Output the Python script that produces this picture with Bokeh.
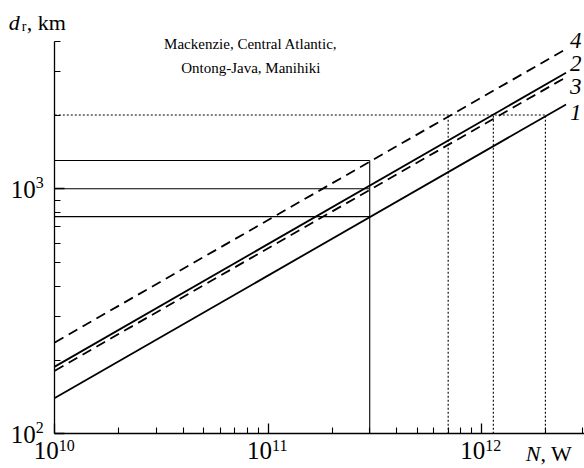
import math
from bokeh.plotting import figure
from bokeh.models import Label, FixedTicker, LogAxis
from bokeh.embed import file_html
from bokeh.resources import INLINE

# ---- data ----
N_span = [1e10, 2.5e12]             # N, W (line ends)
d_line1 = [140, 2210]               # km, solid
d_line2 = [188, 2975]               # km, solid
d_line3 = [181, 2855]               # km, dashed
d_line4 = [236, 3720]               # km, dashed
line_names = ["1", "2", "3", "4"]

N_case = 3e11                        # vertical solid reference
d_case = [770, 1000, 1305]           # horizontal solid references
d_ref = 2000                         # dotted horizontal reference
N_ref = [7e11, 1.14e12, 2e12]        # dotted vertical references

x_major = [1e10, 1e11, 1e12]
x_exp = ["10", "11", "12"]
y_major = [1e2, 1e3]
y_exp = ["2", "3"]
title_lines = ["Mackenzie, Central Atlantic,", "Ontong-Java, Manihiki"]

FONT = "Liberation Serif"
W, H = 584, 468
BL, BB = 2, 2                     # tiny side borders holding the axes
XMIN, XMAX = 1e10, 3.06e12        # axis extent
YMIN, YMAX = 100, 4000
AX_X, AX_Y = 54.3, 433.3          # where the axes sit on the canvas (px)
DEC_X, DEC_Y = 213.2, 245.0       # px per decade

# ranges chosen so that the frame fills the canvas and the axes sit at AX_X / AX_Y
x0 = 10 ** (math.log10(XMIN) - (AX_X - BL) / DEC_X)
x1 = 10 ** (math.log10(XMIN) + (W - AX_X) / DEC_X)
y0 = 10 ** (math.log10(YMIN) - (H - BB - AX_Y) / DEC_Y)
y1 = 10 ** (math.log10(YMIN) + AX_Y / DEC_Y)

p = figure(width=W, height=H, x_axis_type="log", y_axis_type="log",
           x_axis_location=None, y_axis_location=None,
           x_range=(x0, x1), y_range=(y0, y1),
           output_backend="svg", toolbar_location=None,
           min_border_left=BL, min_border_right=0,
           min_border_top=0, min_border_bottom=BB)
p.outline_line_color = None
p.grid.visible = False
p.background_fill_color = "white"
p.border_fill_color = "white"

def minors(lo_exp, hi_exp, hi):
    out = []
    for e in range(lo_exp, hi_exp + 1):
        for m in range(2, 10):
            v = m * 10.0 ** e
            if v <= hi * 1.0001:
                out.append(v)
    return out

xaxis = LogAxis(ticker=FixedTicker(ticks=x_major, minor_ticks=minors(10, 12, XMAX)),
                fixed_location=YMIN, bounds=(XMIN, XMAX))
yaxis = LogAxis(ticker=FixedTicker(ticks=y_major, minor_ticks=minors(2, 3, YMAX)),
                fixed_location=XMIN, bounds=(YMIN, YMAX))
for ax in (xaxis, yaxis):
    ax.axis_line_color = "black"
    ax.axis_line_width = 1.3
    ax.major_tick_line_color = "black"
    ax.minor_tick_line_color = "black"
    ax.major_tick_line_width = 1.3
    ax.minor_tick_line_width = 1.1
    ax.major_tick_in = 10
    ax.major_tick_out = 0
    ax.minor_tick_in = 6
    ax.minor_tick_out = 0
    ax.major_label_text_font_size = "1px"
    ax.major_label_text_alpha = 0
    ax.major_label_standoff = 0
p.add_layout(xaxis, "below")
p.add_layout(yaxis, "left")

# reference lines
for d in d_case:
    p.line([XMIN, N_case], [d, d], line_color="black", line_width=1.1)
p.line([N_case, N_case], [YMIN, max(d_case)], line_color="black", line_width=1.1)
p.line([XMIN, max(N_ref)], [d_ref, d_ref], line_color="black", line_width=1.1, line_dash="2 2")
for n in N_ref:
    p.line([n, n], [YMIN, d_ref], line_color="black", line_width=1.1, line_dash="2 2")

# main lines
p.line(N_span, d_line1, line_color="black", line_width=1.8)
p.line(N_span, d_line2, line_color="black", line_width=1.8)
p.line(N_span, d_line3, line_color="black", line_width=1.8, line_dash="10 6")
p.line(N_span, d_line4, line_color="black", line_width=1.8, line_dash="10 6")

# line numbers
ends = [d_line1[1], d_line2[1], d_line3[1], d_line4[1]]
offs = [-8, 9, -9, 9]
for name, d, off in zip(line_names, ends, offs):
    p.add_layout(Label(x=N_span[1], y=d, text=name, x_offset=4, y_offset=off,
                       text_font=FONT, text_font_style="italic", text_font_size="23px",
                       text_align="left", text_baseline="middle", text_color="black"))

# x tick labels
for t, e in zip(x_major, x_exp):
    p.add_layout(Label(x=t, y=YMIN, text="10", x_offset=4, y_offset=-8,
                       text_font=FONT, text_font_size="25px", text_align="right",
                       text_baseline="top", text_color="black"))
    p.add_layout(Label(x=t, y=YMIN, text=e, x_offset=4, y_offset=-6,
                       text_font=FONT, text_font_size="16px", text_align="left",
                       text_baseline="top", text_color="black"))
# y tick labels
for t, e in zip(y_major, y_exp):
    p.add_layout(Label(x=XMIN, y=t, text="10", x_offset=-19, y_offset=-1,
                       text_font=FONT, text_font_size="25px", text_align="right",
                       text_baseline="middle", text_color="black"))
    p.add_layout(Label(x=XMIN, y=t, text=e, x_offset=-19, y_offset=6,
                       text_font=FONT, text_font_size="16px", text_align="left",
                       text_baseline="middle", text_color="black"))

# axis titles
p.add_layout(Label(x=XMIN, y=YMAX, text="d", x_offset=-46, y_offset=19,
                   text_font=FONT, text_font_style="italic", text_font_size="22px",
                   text_align="left", text_baseline="alphabetic", text_color="black"))
p.add_layout(Label(x=XMIN, y=YMAX, text="r", x_offset=-33, y_offset=15,
                   text_font=FONT, text_font_size="14px",
                   text_align="left", text_baseline="alphabetic", text_color="black"))
p.add_layout(Label(x=XMIN, y=YMAX, text=", km", x_offset=-28, y_offset=19,
                   text_font=FONT, text_font_size="22px",
                   text_align="left", text_baseline="alphabetic", text_color="black"))
p.add_layout(Label(x=1.96e12, y=YMIN, text="N", x_offset=-3, y_offset=-20,
                   text_font=FONT, text_font_style="italic", text_font_size="22px",
                   text_align="right", text_baseline="alphabetic", text_color="black"))
p.add_layout(Label(x=1.96e12, y=YMIN, text=", W", x_offset=-3, y_offset=-20,
                   text_font=FONT, text_font_size="22px",
                   text_align="left", text_baseline="alphabetic", text_color="black"))

# annotation text
for i, s in enumerate(title_lines):
    p.add_layout(Label(x=8.3e10, y=YMAX, text=s, x_offset=0, y_offset=-3 - 24 * i,
                       text_font=FONT, text_font_size="15px", text_align="center",
                       text_baseline="middle", text_color="black"))

open("out.html", "w").write(file_html(p, INLINE))
